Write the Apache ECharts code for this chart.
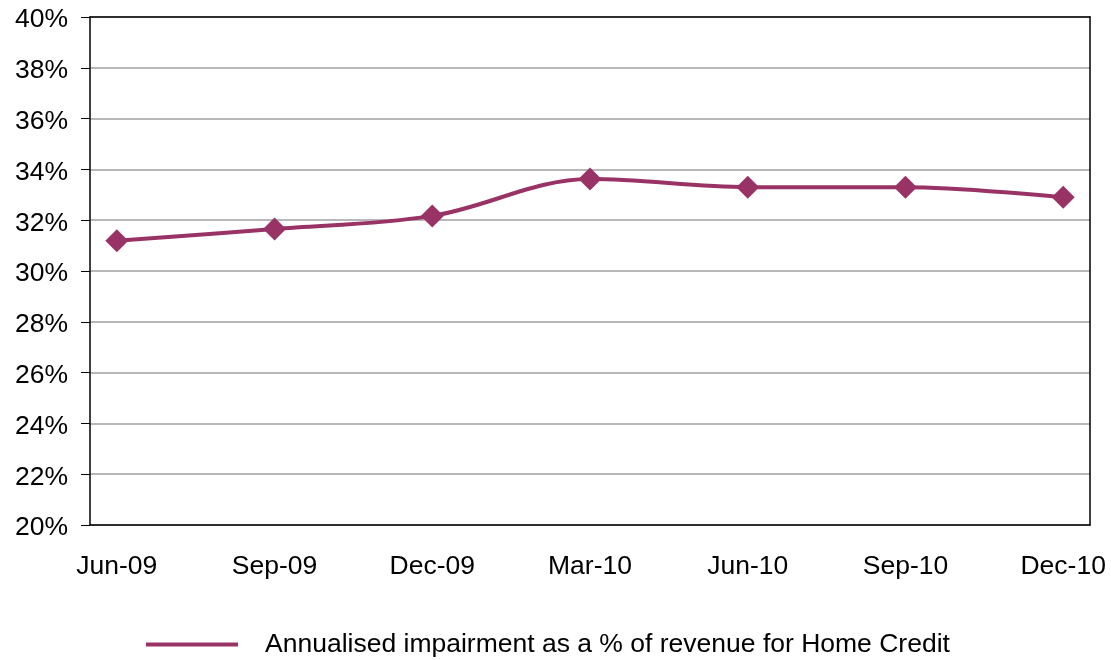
<!DOCTYPE html>
<html>
<head>
<meta charset="utf-8">
<script src="https://cdn.jsdelivr.net/npm/echarts@6/dist/echarts.min.js"></script>
<style>html,body{margin:0;padding:0;background:#fff}#c{width:1111px;height:660px}</style>
</head>
<body>
<div id="c"></div>
<script>
const categories = ['Jun-09', 'Sep-09', 'Dec-09', 'Mar-10', 'Jun-10', 'Sep-10', 'Dec-10'];
const seriesName = 'Annualised impairment as a % of revenue for Home Credit';
const values = [31.19, 31.65, 32.17, 33.62, 33.3, 33.3, 32.9];
const yTicks = [20, 22, 24, 26, 28, 30, 32, 34, 36, 38, 40];

const font = 'Liberation Sans, Arial, sans-serif';
const color = '#993366';
const chart = echarts.init(document.getElementById('c'), null, {renderer: 'canvas'});
const idx = categories.map((_, i) => i);

chart.setOption({
  animation: false,
  backgroundColor: '#ffffff',
  grid: {left: 90, right: 21, top: 17, bottom: 135, containLabel: false},
  xAxis: [{
    type: 'value', min: -0.17, max: categories.length - 1 + 0.17,
    axisLine: {show: true, onZero: false, lineStyle: {color: '#000', width: 1.5}},
    axisTick: {show: false},
    splitLine: {show: false},
    axisLabel: {
      customValues: idx, margin: 28,
      fontFamily: font, fontSize: 26.5, color: '#000',
      formatter: v => categories[Math.round(v)]
    }
  }, {
    type: 'value', position: 'top', min: -0.17, max: categories.length - 1 + 0.17,
    axisLine: {show: true, onZero: false, lineStyle: {color: '#000', width: 1.5}},
    axisTick: {show: false}, axisLabel: {show: false}, splitLine: {show: false}
  }],
  yAxis: [{
    type: 'value', min: yTicks[0], max: yTicks[yTicks.length - 1], interval: 2,
    axisLine: {show: true, onZero: false, lineStyle: {color: '#000', width: 1.5}},
    axisTick: {show: true, length: 9, lineStyle: {color: '#000', width: 1}},
    splitLine: {show: true, lineStyle: {color: '#a0a0a0', width: 1.5}},
    axisLabel: {
      margin: 22, fontFamily: font, fontSize: 26.5, color: '#000',
      formatter: v => '{a|' + v + '%}',
      rich: {a: {fontFamily: font, fontSize: 26.5, color: '#000', padding: [6, 0, 0, 0]}}
    }
  }, {
    type: 'value', position: 'right', min: yTicks[0], max: yTicks[yTicks.length - 1], interval: 2,
    axisLine: {show: true, onZero: false, lineStyle: {color: '#000', width: 1.5}},
    axisTick: {show: false}, axisLabel: {show: false}, splitLine: {show: false}
  }],
  legend: {
    show: true, left: 141, top: 626,
    itemWidth: 92, itemHeight: 4, icon: 'rect',
    textStyle: {fontFamily: font, fontSize: 26.5, color: '#000', padding: [0, 0, 0, 22]},
    data: [{name: seriesName, icon: 'rect'}]
  },
  series: [{
    name: seriesName, type: 'line', xAxisIndex: 0, yAxisIndex: 0,
    data: values.map((v, i) => [i, v]),
    smooth: 0.35,
    symbol: 'diamond', symbolSize: 23,
    lineStyle: {color: color, width: 4},
    itemStyle: {color: color},
    z: 5
  }]
});
</script>
</body>
</html>
